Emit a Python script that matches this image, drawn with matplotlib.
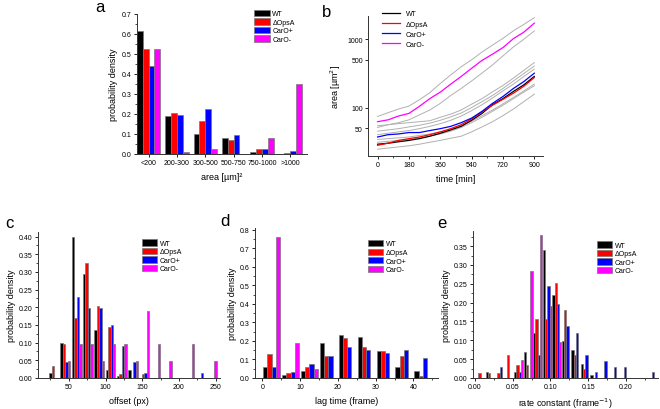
import numpy as np
import matplotlib.pyplot as plt
from matplotlib.patches import Patch
from matplotlib.lines import Line2D
from matplotlib.ticker import MultipleLocator

plt.rcParams['font.family'] = ['Liberation Sans', 'DejaVu Sans']

names = ['WT', '\u0394OpsA', 'CarO+', 'CarO-']
colors = ['#000000', '#ff0000', '#0000ff', '#ff00ff']

# a: area distribution
area_cats = ['<200', '200-300', '300-500', '500-750', '750-1000', '>1000']
area_wt = [0.615, 0.192, 0.098, 0.080, 0.010, 0.0]
area_opsa = [0.525, 0.205, 0.165, 0.070, 0.023, 0.004]
area_carop = [0.440, 0.195, 0.227, 0.093, 0.025, 0.014]
area_carom = [0.525, 0.012, 0.025, 0.0, 0.080, 0.350]

# b: growth curves (log scale)
time_min = [0, 60, 120, 180, 240, 300, 360, 420, 480, 540, 600, 660, 720, 780, 840, 900]
grow_wt = [29, 30, 31.5, 33, 35, 38, 42, 47, 53, 65, 82, 110, 135, 172, 215, 285]
grow_opsa = [28, 30, 33, 35, 37, 40, 44, 49, 56, 68, 86, 108, 132, 162, 205, 275]
grow_carop = [37, 40, 41, 43, 43, 46, 49, 53, 60, 70, 88, 115, 145, 190, 240, 318]
grow_carom = [62, 66, 75, 82, 104, 135, 168, 220, 285, 375, 490, 605, 755, 1020, 1270, 1720]
grow_gray = [
    [74, 84, 95, 105, 130, 165, 225, 300, 395, 500, 650, 820, 1030, 1330, 1650, 2070],
    [51, 56, 60, 66, 78, 92, 115, 150, 190, 245, 320, 420, 570, 770, 1000, 1325],
    [54, 56, 58, 60, 62, 64, 72, 80, 92, 112, 135, 170, 210, 270, 350, 455],
    [45, 47, 49, 52, 55, 59, 65, 73, 83, 100, 122, 150, 190, 245, 315, 405],
    [40, 42, 44, 46, 49, 53, 58, 65, 75, 90, 110, 138, 175, 220, 285, 365],
    [34, 35, 36, 37, 39, 41, 44, 48, 54, 63, 76, 92, 113, 140, 175, 220],
    [31, 32, 33, 34, 36, 38, 41, 45, 51, 60, 72, 88, 108, 135, 168, 208],
    [24.5, 25.5, 26.5, 27.5, 29, 31, 33, 35.5, 38, 44, 52, 62, 76, 95, 122, 157],
]

# c: offset histogram
offset_bins = [25, 40.3, 55.7, 71, 86.4, 101.7, 117, 132.4, 147.7, 163, 178.4, 193.7, 209, 224.4, 239.8]
off_wt = [0.015, 0.098, 0.400, 0.295, 0.135, 0.022, 0.007, 0.022, 0, 0, 0, 0, 0, 0, 0]
off_opsa = [0.035, 0.097, 0.170, 0.325, 0.205, 0.145, 0.012, 0, 0.012, 0, 0, 0, 0, 0, 0]
off_carop = [0, 0.045, 0.228, 0.197, 0.197, 0.150, 0.090, 0.045, 0.015, 0, 0, 0, 0, 0.015, 0]
off_carom = [0, 0.047, 0.095, 0.095, 0.047, 0.095, 0.095, 0.047, 0.190, 0.095, 0.047, 0, 0.095, 0, 0.047]

# d: lag time histogram
lag_bins = [0.8, 5.8, 10.8, 15.8, 20.8, 25.8, 30.8, 35.8, 40.8]
lag_wt = [0.060, 0.015, 0.038, 0.190, 0.230, 0.222, 0.145, 0.060, 0.038]
lag_opsa = [0.130, 0.025, 0.060, 0.120, 0.218, 0.168, 0.145, 0.120, 0.012]
lag_carop = [0.060, 0.030, 0.075, 0.120, 0.168, 0.152, 0.137, 0.152, 0.107]
lag_carom = [0.760, 0.190, 0.047, 0, 0, 0, 0, 0, 0]

# e: rate constant histogram
rate_bins = [0.0029, 0.0155, 0.0282, 0.0408, 0.0535, 0.0661, 0.0787, 0.0914, 0.1040,
             0.1167, 0.1293, 0.1420, 0.1546, 0.1672, 0.1799, 0.1925, 0.2052, 0.2178, 0.2304]
rate_wt = [0, 0.015, 0, 0, 0.015, 0.068, 0.120, 0.340, 0.220, 0.098, 0.075, 0.037, 0.007,
           0, 0, 0, 0, 0, 0]
rate_opsa = [0.012, 0.012, 0.012, 0.060, 0.035, 0.035, 0.157, 0.157, 0.253, 0.180, 0.060,
             0.023, 0, 0, 0, 0, 0, 0, 0]
rate_carop = [0, 0, 0.030, 0, 0.015, 0, 0.060, 0.243, 0.197, 0.137, 0.120, 0.060, 0.015,
              0.045, 0.030, 0.030, 0, 0, 0.015]
rate_carom = [0, 0, 0, 0, 0.047, 0.285, 0.380, 0.190, 0.095, 0, 0, 0, 0, 0, 0, 0, 0, 0, 0]

W, H = 660, 410
fig = plt.figure(figsize=(6.6, 4.1), dpi=100)


def add_ax(left, top, right, bottom):
    return fig.add_axes([left / W, 1 - bottom / H, (right - left) / W, (bottom - top) / H])


def style(ax):
    for s in ['top', 'right']:
        ax.spines[s].set_visible(False)
    for s in ['left', 'bottom']:
        ax.spines[s].set_linewidth(0.7)
        ax.spines[s].set_color('#333333')
    ax.tick_params(which='major', direction='out', length=2.2, width=0.6, labelsize=5, pad=1.5)
    ax.tick_params(which='minor', direction='out', length=1.2, width=0.5)


def bar_groups(ax, x, series, step, width):
    for k, vals in enumerate(series):
        for xi, v in zip(x, vals):
            if v > 0:
                ax.bar(xi + k * step, v, width=width, color=colors[k],
                       edgecolor='#777777', linewidth=0.5, align='center')


def bar_legend(ax, x, y):
    handles = [Patch(facecolor=c, edgecolor='#777777', linewidth=0.5) for c in colors]
    ax.legend(handles, names, loc='upper left', bbox_to_anchor=(x, y), frameon=False,
              fontsize=5, handlelength=2.2, handleheight=1.0, labelspacing=0.15,
              borderpad=0, borderaxespad=0, handletextpad=0.4)


# panel a
ax = add_ax(137, 15, 307, 155)
style(ax)
xa = np.arange(len(area_cats))
bar_groups(ax, xa - 0.3075, [area_wt, area_opsa, area_carop, area_carom], 0.205, 0.205)
ax.set_xlim(-0.41, 5.59)
ax.set_ylim(0, 0.7)
ax.set_xticks(xa)
ax.set_xticklabels(area_cats)
ax.yaxis.set_major_locator(MultipleLocator(0.1))
ax.yaxis.set_minor_locator(MultipleLocator(0.05))
ax.set_xlabel('area [\u00b5m]\u00b2', fontsize=6.5, labelpad=4)
ax.set_ylabel('probability density', fontsize=6.5, labelpad=3)
bar_legend(ax, 0.69, 1.03)
fig.text(95 / W, 1 - 12 / H, 'a', fontsize=12)

# panel b
ax = add_ax(368, 17, 543, 157)
style(ax)
for g in grow_gray:
    ax.plot(time_min, g, color='#b0b0b0', linewidth=0.7)
for k, vals in enumerate([grow_wt, grow_opsa, grow_carop, grow_carom]):
    ax.plot(time_min, vals, color=colors[k], linewidth=0.9, label=names[k])
ax.set_yscale('log')
ax.set_ylim(19.5, 2190)
ax.set_xlim(-55, 950)
ax.set_yticks([50, 100, 500, 1000])
ax.set_yticklabels(['50', '100', '500', '1000'])
ax.yaxis.set_minor_locator(plt.NullLocator())
ax.xaxis.set_major_locator(MultipleLocator(180))
ax.xaxis.set_minor_locator(MultipleLocator(90))
ax.set_xlabel('time [min]', fontsize=6.5, labelpad=4)
ax.set_ylabel('area [\u00b5m$^2$]', fontsize=6.5, labelpad=3)
ax.legend(loc='upper left', bbox_to_anchor=(0.08, 1.04), frameon=False, fontsize=5,
          handlelength=2.6, labelspacing=0.45, borderpad=0, borderaxespad=0, handletextpad=0.8)
fig.text(322 / W, 1 - 17 / H, 'b', fontsize=12)

# panel c
ax = add_ax(38, 233, 220, 379)
style(ax)
bar_groups(ax, np.array(offset_bins), [off_wt, off_opsa, off_carop, off_carom], 3.4, 3.4)
ax.set_xlim(8, 256)
ax.set_ylim(0, 0.413)
ax.xaxis.set_major_locator(MultipleLocator(50))
ax.xaxis.set_minor_locator(MultipleLocator(25))
ax.yaxis.set_major_locator(MultipleLocator(0.05))
ax.yaxis.set_minor_locator(MultipleLocator(0.025))
ax.yaxis.set_major_formatter('{x:.2f}')
ax.set_xlabel('offset (px)', fontsize=6.5, labelpad=4)
ax.set_ylabel('probability density', fontsize=6.5, labelpad=2)
bar_legend(ax, 0.57, 0.95)
fig.text(5 / W, 1 - 228 / H, 'c', fontsize=12)

# panel d
ax = add_ax(255, 229, 438, 379)
style(ax)
bar_groups(ax, np.array(lag_bins), [lag_wt, lag_opsa, lag_carop, lag_carom], 1.12, 1.12)
ax.set_xlim(-1.93, 46.5)
ax.set_ylim(0, 0.81)
ax.xaxis.set_major_locator(MultipleLocator(10))
ax.xaxis.set_minor_locator(MultipleLocator(5))
ax.yaxis.set_major_locator(MultipleLocator(0.1))
ax.yaxis.set_minor_locator(MultipleLocator(0.05))
ax.set_xlabel('lag time (frame)', fontsize=6.5, labelpad=4)
ax.set_ylabel('probability density', fontsize=6.5, labelpad=2)
bar_legend(ax, 0.615, 0.92)
fig.text(220 / W, 1 - 226 / H, 'd', fontsize=12)

# panel e
ax = add_ax(473, 232, 658, 379)
style(ax)
bar_groups(ax, np.array(rate_bins), [rate_wt, rate_opsa, rate_carop, rate_carom], 0.003, 0.0031)
ax.set_xlim(-0.0027, 0.2427)
ax.set_ylim(0, 0.39)
ax.xaxis.set_major_locator(MultipleLocator(0.05))
ax.xaxis.set_minor_locator(MultipleLocator(0.025))
ax.xaxis.set_major_formatter('{x:.2f}')
ax.yaxis.set_major_locator(MultipleLocator(0.05))
ax.yaxis.set_minor_locator(MultipleLocator(0.025))
ax.yaxis.set_major_formatter('{x:.2f}')
ax.set_xlabel('rate constant (frame$^{-1}$)', fontsize=6.5, labelpad=4)
ax.set_ylabel('probability density', fontsize=6.5, labelpad=2)
bar_legend(ax, 0.67, 0.93)
fig.text(437 / W, 1 - 228 / H, 'e', fontsize=12)

fig.savefig('out.png', dpi=100)
